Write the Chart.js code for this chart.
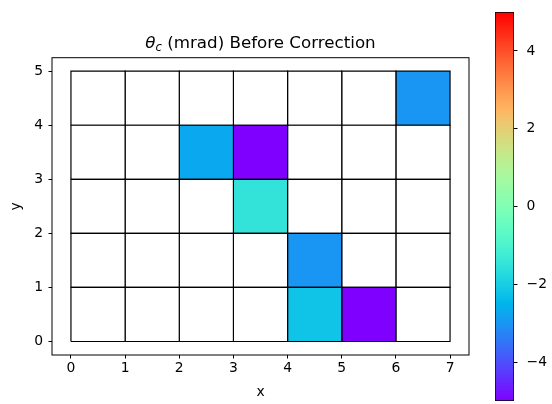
<!DOCTYPE html>
<html>
<head>
<meta charset="utf-8">
<script src="https://cdn.jsdelivr.net/npm/chart.js@4"></script>
<style>
  body { margin: 0; background: #fff; }
  #wrap { position: relative; width: 552px; height: 404px; }
  #main { position: absolute; left: 0; top: 0; width: 480px; height: 404px; }
  #cbar { position: absolute; left: 480px; top: 0; width: 72px; height: 404px; }
</style>
</head>
<body>
<div id="wrap">
  <div id="main"><canvas id="heat"></canvas></div>
  <div id="cbar"><canvas id="bar"></canvas></div>
</div>
<script>
// ---- data ----
const xEdges = [0, 1, 2, 3, 4, 5, 6, 7];
const yEdges = [0, 1, 2, 3, 4, 5];
const xTicks = [0, 1, 2, 3, 4, 5, 6, 7];
const yTicks = [0, 1, 2, 3, 4, 5];
const cbTicks = [-4, -2, 0, 2, 4];
const vmin = -5;
const vmax = 5;
// theta_c values, one row per y cell (bottom row first), null = no data
const row0 = [null, null, null, null, -2.2, -5, null];
const row1 = [null, null, null, null, -3, null, null];
const row2 = [null, null, null, -1.5, null, null, null];
const row3 = [null, null, -2.7, -5, null, null, null];
const row4 = [null, null, null, null, null, null, -3];
const rows = [row0, row1, row2, row3, row4];

const FONT = 'DejaVu Sans';

// matplotlib 'rainbow' colormap
function rainbow(t) {
    t = Math.min(1, Math.max(0, t));
    const r = Math.abs(2 * t - 0.5);
    const g = Math.sin(Math.PI * t);
    const b = Math.cos(Math.PI * t / 2);
    const c = v => Math.round(Math.min(1, Math.max(0, v)) * 255);
    return 'rgb(' + c(r) + ',' + c(g) + ',' + c(b) + ')';
}
function colorFor(v) {
    return rainbow((v - vmin) / (vmax - vmin));
}

// one closed polygon dataset per cell
const cellSets = [];
rows.forEach((vals, j) => {
    vals.forEach((v, i) => {
        const x0 = xEdges[i], x1 = xEdges[i + 1];
        const y0 = yEdges[j], y1 = yEdges[j + 1];
        cellSets.push({
            data: [{x: x0, y: y0}, {x: x1, y: y0}, {x: x1, y: y1}, {x: x0, y: y1}, {x: x0, y: y0}],
            showLine: true,
            fill: 'shape',
            backgroundColor: v === null ? '#ffffff' : colorFor(v),
            borderColor: '#000',
            borderWidth: 1.2,
            pointRadius: 0,
            tension: 0
        });
    });
});

// frame around the axes
const framePlugin = {
    id: 'frame',
    afterDraw(chart) {
        const a = chart.chartArea, ctx = chart.ctx;
        ctx.save();
        ctx.strokeStyle = '#000';
        ctx.lineWidth = 1;
        ctx.strokeRect(a.left, a.top, a.right - a.left, a.bottom - a.top);
        ctx.restore();
    }
};

// title with italic theta and subscript c
const titlePlugin = {
    id: 'mathTitle',
    afterDraw(chart) {
        const a = chart.chartArea, ctx = chart.ctx;
        const main = '16.7px "' + FONT + '"';
        const ital = 'italic 16.7px "' + FONT + '"';
        const sub = 'italic 11.7px "' + FONT + '"';
        const rest = ' (mrad) Before Correction';
        ctx.save();
        ctx.fillStyle = '#000';
        ctx.textBaseline = 'alphabetic';
        ctx.font = ital; const w1 = ctx.measureText('\u03b8').width;
        ctx.font = sub;  const w2 = ctx.measureText('c').width;
        ctx.font = main; const w3 = ctx.measureText(rest).width;
        let x = (a.left + a.right) / 2 - (w1 + w2 + w3) / 2;
        const base = 48;
        ctx.font = ital; ctx.fillText('\u03b8', x, base); x += w1;
        ctx.font = sub;  ctx.fillText('c', x, base + 3); x += w2;
        ctx.font = main; ctx.fillText(rest, x, base);
        ctx.restore();
    }
};

new Chart(document.getElementById('heat'), {
    type: 'scatter',
    data: { datasets: cellSets },
    options: {
        responsive: true,
        maintainAspectRatio: false,
        animation: false,
        layout: { padding: { top: 57.7, right: 11, bottom: 0, left: 0 } },
        plugins: { legend: { display: false }, tooltip: { enabled: false } },
        scales: {
            x: {
                type: 'linear',
                min: -0.35,
                max: 7.35,
                afterBuildTicks: s => { s.ticks = xTicks.map(v => ({value: v})); },
                afterFit: s => { s.height = 49; },
                ticks: { color: '#000', font: { family: FONT, size: 13.9 }, padding: 2 },
                grid: { drawOnChartArea: false, drawTicks: true, tickLength: 3.5, color: '#000', lineWidth: 1 },
                border: { display: false },
                title: { display: true, text: 'x', color: '#000', font: { family: FONT, size: 13.9 }, padding: { top: 0, bottom: 3 } }
            },
            y: {
                type: 'linear',
                min: -0.25,
                max: 5.25,
                afterBuildTicks: s => { s.ticks = yTicks.map(v => ({value: v})); },
                afterFit: s => { s.width = 52; },
                ticks: { color: '#000', font: { family: FONT, size: 13.9 }, padding: 5.5 },
                grid: { drawOnChartArea: false, drawTicks: true, tickLength: 3.5, color: '#000', lineWidth: 1 },
                border: { display: false },
                title: { display: true, text: 'y', color: '#000', font: { family: FONT, size: 13.9 }, padding: { top: 7.7, bottom: 0 } }
            }
        }
    },
    plugins: [framePlugin, titlePlugin]
});

// ---- colorbar ----
new Chart(document.getElementById('bar'), {
    type: 'bar',
    data: {
        labels: [''],
        datasets: [{
            data: [[vmin, vmax]],
            barPercentage: 1,
            categoryPercentage: 1,
            borderColor: '#000',
            borderWidth: 1,
            borderSkipped: false,
            backgroundColor: function(context) {
                const chart = context.chart;
                if (!chart.chartArea) return null;
                const ys = chart.scales.y;
                const g = chart.ctx.createLinearGradient(0, ys.getPixelForValue(vmin), 0, ys.getPixelForValue(vmax));
                for (let k = 0; k <= 40; k++) {
                    g.addColorStop(k / 40, rainbow(k / 40));
                }
                return g;
            }
        }]
    },
    options: {
        responsive: true,
        maintainAspectRatio: false,
        animation: false,
        layout: { padding: { top: 12, right: 0, bottom: 3, left: 15 } },
        plugins: { legend: { display: false }, tooltip: { enabled: false } },
        scales: {
            x: { display: false },
            y: {
                position: 'right',
                min: vmin,
                max: vmax,
                afterBuildTicks: s => { s.ticks = cbTicks.map(v => ({value: v})); },
                afterFit: s => {
                    s.width = 38;
                    s.paddingTop = 0;
                    s.paddingBottom = 0;
                },
                ticks: {
                    color: '#000',
                    font: { family: FONT, size: 13.9 },
                    padding: 9,
                    callback: v => String(v).replace('-', '\u2212')
                },
                grid: { drawOnChartArea: false, drawTicks: true, tickLength: 3.5, color: '#000', lineWidth: 1 },
                border: { display: false }
            }
        }
    }
});
</script>
</body>
</html>
